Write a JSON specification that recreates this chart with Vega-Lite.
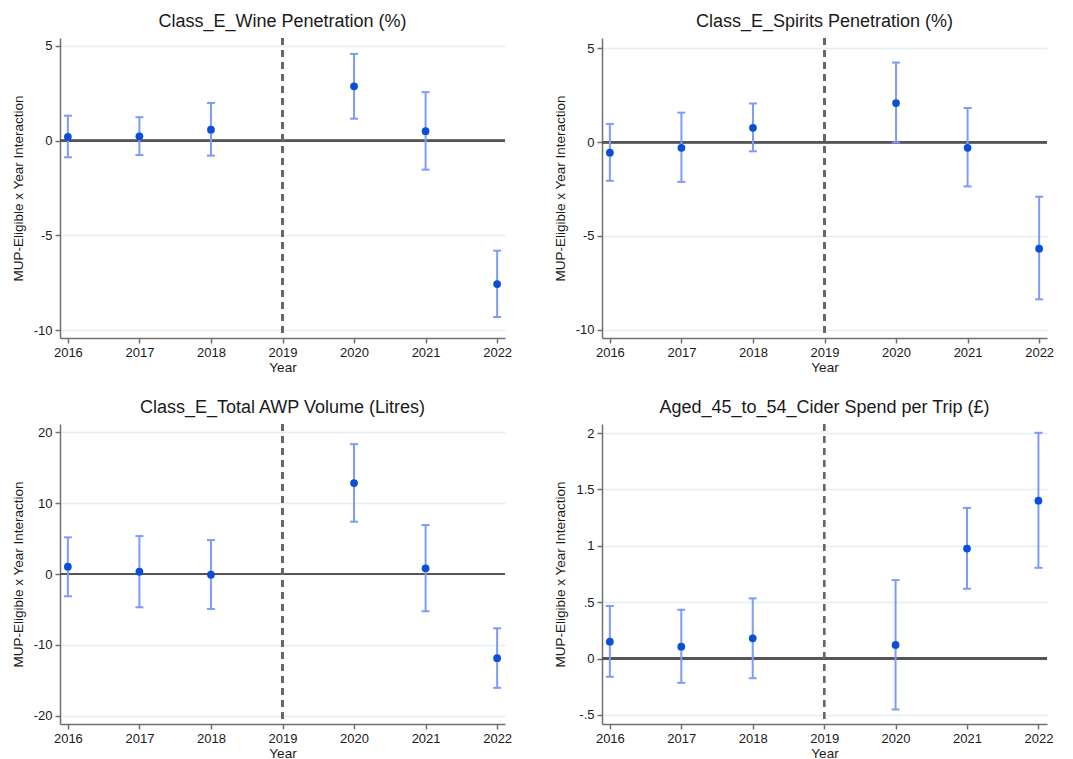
{
  "$schema": "https://vega.github.io/schema/vega-lite/v6.json",
  "padding": {"left": 11, "top": 13, "right": 5, "bottom": 2},
  "spacing": {"column": 41, "row": 25},
  "columns": 2,
  "data": {"values": [
    {"panel": "wine", "year": 2016, "est": 0.20, "lo": -0.88, "hi": 1.32},
    {"panel": "wine", "year": 2017, "est": 0.23, "lo": -0.76, "hi": 1.24},
    {"panel": "wine", "year": 2018, "est": 0.58, "lo": -0.79, "hi": 1.99},
    {"panel": "wine", "year": 2020, "est": 2.87, "lo": 1.16, "hi": 4.58},
    {"panel": "wine", "year": 2021, "est": 0.50, "lo": -1.53, "hi": 2.56},
    {"panel": "wine", "year": 2022, "est": -7.57, "lo": -9.31, "hi": -5.81},
    {"panel": "spirits", "year": 2016, "est": -0.56, "lo": -2.06, "hi": 0.97},
    {"panel": "spirits", "year": 2017, "est": -0.30, "lo": -2.12, "hi": 1.57},
    {"panel": "spirits", "year": 2018, "est": 0.76, "lo": -0.49, "hi": 2.06},
    {"panel": "spirits", "year": 2020, "est": 2.08, "lo": -0.02, "hi": 4.24},
    {"panel": "spirits", "year": 2021, "est": -0.30, "lo": -2.36, "hi": 1.82},
    {"panel": "spirits", "year": 2022, "est": -5.68, "lo": -8.38, "hi": -2.91},
    {"panel": "awp", "year": 2016, "est": 1.04, "lo": -3.15, "hi": 5.18},
    {"panel": "awp", "year": 2017, "est": 0.33, "lo": -4.71, "hi": 5.36},
    {"panel": "awp", "year": 2018, "est": -0.09, "lo": -4.94, "hi": 4.80},
    {"panel": "awp", "year": 2020, "est": 12.85, "lo": 7.39, "hi": 18.35},
    {"panel": "awp", "year": 2021, "est": 0.80, "lo": -5.27, "hi": 6.92},
    {"panel": "awp", "year": 2022, "est": -11.90, "lo": -16.09, "hi": -7.67},
    {"panel": "cider", "year": 2016, "est": 0.150, "lo": -0.162, "hi": 0.466},
    {"panel": "cider", "year": 2017, "est": 0.106, "lo": -0.215, "hi": 0.433},
    {"panel": "cider", "year": 2018, "est": 0.180, "lo": -0.174, "hi": 0.534},
    {"panel": "cider", "year": 2020, "est": 0.121, "lo": -0.451, "hi": 0.696},
    {"panel": "cider", "year": 2021, "est": 0.976, "lo": 0.619, "hi": 1.336},
    {"panel": "cider", "year": 2022, "est": 1.400, "lo": 0.805, "hi": 2.002}
  ]},
  "concat": [
    {
      "width": 445, "height": 300,
      "title": "Class_E_Wine Penetration (%)",
      "transform": [{"filter": "datum.panel == 'wine'"}],
      "layer": [
        {"mark": {"type": "rule", "color": "#555555", "strokeWidth": 2},
         "encoding": {"y": {"datum": 0, "type": "quantitative", "scale": {"domain": [-10.42, 5.42], "nice": false, "zero": false}, "axis": {"values": [-10, -5, 0, 5], "title": "MUP-Eligible x Year Interaction", "grid": true, "labelExpr": "datum.value == 0.5 ? '.5' : datum.value == -0.5 ? '-.5' : '' + datum.value"}}}},
        {"mark": {"type": "rule", "color": "#666666", "strokeWidth": 2, "strokeDash": [7, 5]},
         "encoding": {"x": {"datum": 2019, "type": "quantitative", "scale": {"domain": [2015.89, 2022.11], "nice": false, "zero": false}, "axis": {"values": [2016, 2017, 2018, 2019, 2020, 2021, 2022], "format": "d", "title": "Year", "grid": false}}}},
        {"mark": {"type": "rule", "color": "#7d9bfb", "strokeWidth": 2},
         "encoding": {
           "x": {"field": "year", "type": "quantitative", "scale": {"domain": [2015.89, 2022.11], "nice": false, "zero": false}, "axis": {"values": [2016, 2017, 2018, 2019, 2020, 2021, 2022], "format": "d", "title": "Year", "grid": false}},
           "y": {"field": "lo", "type": "quantitative", "scale": {"domain": [-10.42, 5.42], "nice": false, "zero": false}, "axis": {"values": [-10, -5, 0, 5], "title": "MUP-Eligible x Year Interaction", "grid": true, "labelExpr": "datum.value == 0.5 ? '.5' : datum.value == -0.5 ? '-.5' : '' + datum.value"}},
           "y2": {"field": "hi"}}},
        {"mark": {"type": "tick", "orient": "horizontal", "color": "#7d9bfb", "size": 8, "thickness": 2, "opacity": 1},
         "encoding": {"x": {"field": "year", "type": "quantitative"}, "y": {"field": "lo", "type": "quantitative"}}},
        {"mark": {"type": "tick", "orient": "horizontal", "color": "#7d9bfb", "size": 8, "thickness": 2, "opacity": 1},
         "encoding": {"x": {"field": "year", "type": "quantitative"}, "y": {"field": "hi", "type": "quantitative"}}},
        {"mark": {"type": "circle", "color": "#0b4fd8", "size": 60, "opacity": 1},
         "encoding": {"x": {"field": "year", "type": "quantitative"}, "y": {"field": "est", "type": "quantitative"}}}
      ]
    },
    {
      "width": 445, "height": 300,
      "title": "Class_E_Spirits Penetration (%)",
      "transform": [{"filter": "datum.panel == 'spirits'"}],
      "layer": [
        {"mark": {"type": "rule", "color": "#555555", "strokeWidth": 2},
         "encoding": {"y": {"datum": 0, "type": "quantitative", "scale": {"domain": [-10.44, 5.55], "nice": false, "zero": false}, "axis": {"values": [-10, -5, 0, 5], "title": "MUP-Eligible x Year Interaction", "grid": true, "labelExpr": "datum.value == 0.5 ? '.5' : datum.value == -0.5 ? '-.5' : '' + datum.value"}}}},
        {"mark": {"type": "rule", "color": "#666666", "strokeWidth": 2, "strokeDash": [7, 5]},
         "encoding": {"x": {"datum": 2019, "type": "quantitative", "scale": {"domain": [2015.89, 2022.11], "nice": false, "zero": false}, "axis": {"values": [2016, 2017, 2018, 2019, 2020, 2021, 2022], "format": "d", "title": "Year", "grid": false}}}},
        {"mark": {"type": "rule", "color": "#7d9bfb", "strokeWidth": 2},
         "encoding": {
           "x": {"field": "year", "type": "quantitative", "scale": {"domain": [2015.89, 2022.11], "nice": false, "zero": false}, "axis": {"values": [2016, 2017, 2018, 2019, 2020, 2021, 2022], "format": "d", "title": "Year", "grid": false}},
           "y": {"field": "lo", "type": "quantitative", "scale": {"domain": [-10.44, 5.55], "nice": false, "zero": false}, "axis": {"values": [-10, -5, 0, 5], "title": "MUP-Eligible x Year Interaction", "grid": true, "labelExpr": "datum.value == 0.5 ? '.5' : datum.value == -0.5 ? '-.5' : '' + datum.value"}},
           "y2": {"field": "hi"}}},
        {"mark": {"type": "tick", "orient": "horizontal", "color": "#7d9bfb", "size": 8, "thickness": 2, "opacity": 1},
         "encoding": {"x": {"field": "year", "type": "quantitative"}, "y": {"field": "lo", "type": "quantitative"}}},
        {"mark": {"type": "tick", "orient": "horizontal", "color": "#7d9bfb", "size": 8, "thickness": 2, "opacity": 1},
         "encoding": {"x": {"field": "year", "type": "quantitative"}, "y": {"field": "hi", "type": "quantitative"}}},
        {"mark": {"type": "circle", "color": "#0b4fd8", "size": 60, "opacity": 1},
         "encoding": {"x": {"field": "year", "type": "quantitative"}, "y": {"field": "est", "type": "quantitative"}}}
      ]
    },
    {
      "width": 445, "height": 300,
      "title": "Class_E_Total AWP Volume (Litres)",
      "transform": [{"filter": "datum.panel == 'awp'"}],
      "layer": [
        {"mark": {"type": "rule", "color": "#555555", "strokeWidth": 2},
         "encoding": {"y": {"datum": 0, "type": "quantitative", "scale": {"domain": [-21.2, 21.2], "nice": false, "zero": false}, "axis": {"values": [-20, -10, 0, 10, 20], "title": "MUP-Eligible x Year Interaction", "grid": true, "labelExpr": "datum.value == 0.5 ? '.5' : datum.value == -0.5 ? '-.5' : '' + datum.value"}}}},
        {"mark": {"type": "rule", "color": "#666666", "strokeWidth": 2, "strokeDash": [7, 5]},
         "encoding": {"x": {"datum": 2019, "type": "quantitative", "scale": {"domain": [2015.89, 2022.11], "nice": false, "zero": false}, "axis": {"values": [2016, 2017, 2018, 2019, 2020, 2021, 2022], "format": "d", "title": "Year", "grid": false}}}},
        {"mark": {"type": "rule", "color": "#7d9bfb", "strokeWidth": 2},
         "encoding": {
           "x": {"field": "year", "type": "quantitative", "scale": {"domain": [2015.89, 2022.11], "nice": false, "zero": false}, "axis": {"values": [2016, 2017, 2018, 2019, 2020, 2021, 2022], "format": "d", "title": "Year", "grid": false}},
           "y": {"field": "lo", "type": "quantitative", "scale": {"domain": [-21.2, 21.2], "nice": false, "zero": false}, "axis": {"values": [-20, -10, 0, 10, 20], "title": "MUP-Eligible x Year Interaction", "grid": true, "labelExpr": "datum.value == 0.5 ? '.5' : datum.value == -0.5 ? '-.5' : '' + datum.value"}},
           "y2": {"field": "hi"}}},
        {"mark": {"type": "tick", "orient": "horizontal", "color": "#7d9bfb", "size": 8, "thickness": 2, "opacity": 1},
         "encoding": {"x": {"field": "year", "type": "quantitative"}, "y": {"field": "lo", "type": "quantitative"}}},
        {"mark": {"type": "tick", "orient": "horizontal", "color": "#7d9bfb", "size": 8, "thickness": 2, "opacity": 1},
         "encoding": {"x": {"field": "year", "type": "quantitative"}, "y": {"field": "hi", "type": "quantitative"}}},
        {"mark": {"type": "circle", "color": "#0b4fd8", "size": 60, "opacity": 1},
         "encoding": {"x": {"field": "year", "type": "quantitative"}, "y": {"field": "est", "type": "quantitative"}}}
      ]
    },
    {
      "width": 445, "height": 300,
      "title": "Aged_45_to_54_Cider Spend per Trip (£)",
      "transform": [{"filter": "datum.panel == 'cider'"}],
      "layer": [
        {"mark": {"type": "rule", "color": "#555555", "strokeWidth": 2},
         "encoding": {"y": {"datum": 0, "type": "quantitative", "scale": {"domain": [-0.58, 2.08], "nice": false, "zero": false}, "axis": {"values": [-0.5, 0, 0.5, 1, 1.5, 2], "title": "MUP-Eligible x Year Interaction", "grid": true, "labelExpr": "datum.value == 0.5 ? '.5' : datum.value == -0.5 ? '-.5' : '' + datum.value"}}}},
        {"mark": {"type": "rule", "color": "#666666", "strokeWidth": 2, "strokeDash": [7, 5]},
         "encoding": {"x": {"datum": 2019, "type": "quantitative", "scale": {"domain": [2015.89, 2022.12], "nice": false, "zero": false}, "axis": {"values": [2016, 2017, 2018, 2019, 2020, 2021, 2022], "format": "d", "title": "Year", "grid": false}}}},
        {"mark": {"type": "rule", "color": "#7d9bfb", "strokeWidth": 2},
         "encoding": {
           "x": {"field": "year", "type": "quantitative", "scale": {"domain": [2015.89, 2022.12], "nice": false, "zero": false}, "axis": {"values": [2016, 2017, 2018, 2019, 2020, 2021, 2022], "format": "d", "title": "Year", "grid": false}},
           "y": {"field": "lo", "type": "quantitative", "scale": {"domain": [-0.58, 2.08], "nice": false, "zero": false}, "axis": {"values": [-0.5, 0, 0.5, 1, 1.5, 2], "title": "MUP-Eligible x Year Interaction", "grid": true, "labelExpr": "datum.value == 0.5 ? '.5' : datum.value == -0.5 ? '-.5' : '' + datum.value"}},
           "y2": {"field": "hi"}}},
        {"mark": {"type": "tick", "orient": "horizontal", "color": "#7d9bfb", "size": 8, "thickness": 2, "opacity": 1},
         "encoding": {"x": {"field": "year", "type": "quantitative"}, "y": {"field": "lo", "type": "quantitative"}}},
        {"mark": {"type": "tick", "orient": "horizontal", "color": "#7d9bfb", "size": 8, "thickness": 2, "opacity": 1},
         "encoding": {"x": {"field": "year", "type": "quantitative"}, "y": {"field": "hi", "type": "quantitative"}}},
        {"mark": {"type": "circle", "color": "#0b4fd8", "size": 60, "opacity": 1},
         "encoding": {"x": {"field": "year", "type": "quantitative"}, "y": {"field": "est", "type": "quantitative"}}}
      ]
    }
  ],
  "config": {
    "font": "Liberation Sans",
    "view": {"stroke": null},
    "axis": {
      "domainColor": "#707070", "domainWidth": 1.5,
      "tickColor": "#707070", "tickSize": 5, "tickWidth": 1.5,
      "labelFontSize": 13, "labelColor": "#1a1a1a", "labelPadding": 3,
      "titleFontSize": 13.5, "titleFontWeight": "normal", "titleColor": "#1a1a1a",
      "gridColor": "#e4eef2", "gridWidth": 1.5
    },
    "axisX": {"titlePadding": 1, "labelPadding": 3},
    "axisY": {"titlePadding": 8},
    "title": {"fontSize": 18, "fontWeight": "normal", "color": "#1a1a1a", "offset": 6}
  }
}
